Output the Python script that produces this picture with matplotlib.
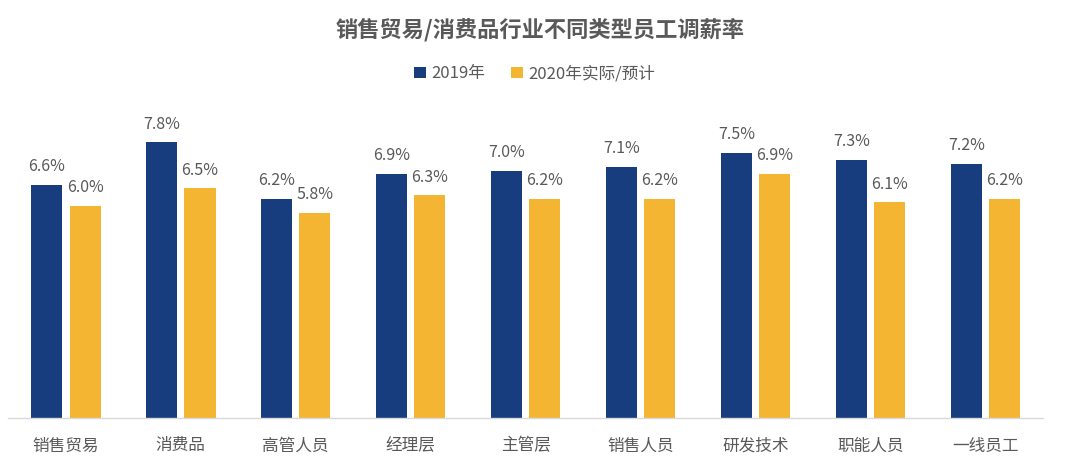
import numpy as np
import matplotlib
matplotlib.use("Agg")
import matplotlib.pyplot as plt

plt.rcParams['font.family'] = ['Noto Sans CJK SC', 'DejaVu Sans']

categories = ["销售贸易", "消费品", "高管人员", "经理层", "主管层", "销售人员", "研发技术", "职能人员", "一线员工"]
rate_2019 = [6.6, 7.8, 6.2, 6.9, 7.0, 7.1, 7.5, 7.3, 7.2]
rate_2020 = [6.0, 6.5, 5.8, 6.3, 6.2, 6.2, 6.9, 6.1, 6.2]
series_names = ["2019年", "2020年实际/预计"]

blue = "#183D7E"
yellow = "#F4B632"
grey = "#595959"

fig = plt.figure(figsize=(10.8, 4.61), dpi=100)
ax = fig.add_axes([0.0077, 0.0933, 0.958, 0.69])

x = np.arange(len(categories))
width = 0.27
off = 0.1675

b1 = ax.bar(x - off, rate_2019, width, color=blue, label=series_names[0])
b2 = ax.bar(x + off, rate_2020, width, color=yellow, label=series_names[1])

for bars, vals in [(b1, rate_2019), (b2, rate_2020)]:
    for bar, v in zip(bars, vals):
        ax.annotate(f"{v:.1f}%", (bar.get_x() + bar.get_width() / 2, v),
                    xytext=(0, 7), textcoords="offset points",
                    ha="center", va="bottom", fontsize=11.5, color=grey)

ax.set_xlim(-0.5, len(categories) - 0.5)
ax.set_ylim(0, 9)
ax.set_yticks([])
ax.set_xticks(x)
ax.set_xticklabels(categories, fontsize=12, color=grey)
ax.tick_params(axis="x", length=0, pad=14)
for s in ["top", "right", "left"]:
    ax.spines[s].set_visible(False)
ax.spines["bottom"].set_color("#D9D9D9")
ax.spines["bottom"].set_linewidth(1)

fig.text(0.5, 0.935, "销售贸易/消费品行业不同类型员工调薪率", ha="center", va="center",
         fontsize=16, fontweight="bold", color=grey)

fig.legend(handles=[b1, b2], loc="center", bbox_to_anchor=(0.495, 0.84), ncol=2,
           frameon=False, fontsize=12, labelcolor=grey,
           handlelength=0.7, handleheight=0.7, handletextpad=0.3, columnspacing=1.6)

fig.savefig("out.png", dpi=100)
